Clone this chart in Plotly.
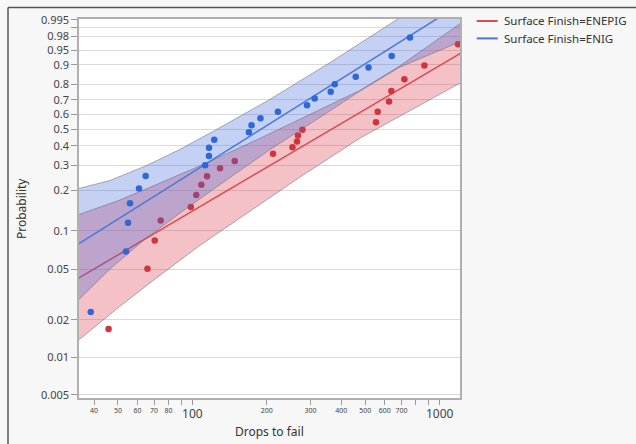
import numpy as np
import plotly.graph_objects as go

# ---------------- data ----------------
enepig_drops = [45.8, 65.8, 70.4, 74.4, 98.5, 103.6, 108.7, 114.6, 129.3, 148.3, 211.8,
                253.8, 264.8, 267.3, 278.5, 552.5, 561.4, 623.7, 637.6, 719.7, 867.3, 1185.7]
enepig_prob = [0.0169, 0.0507, 0.0841, 0.1198, 0.1511, 0.1849, 0.2191, 0.2521, 0.2859, 0.3198,
               0.3561, 0.3913, 0.4257, 0.4619, 0.4977, 0.5472, 0.6172, 0.6870, 0.7573, 0.8280,
               0.8965, 0.9658]
enig_drops = [38.8, 53.9, 54.9, 55.9, 60.8, 64.7, 112.6, 116.6, 116.7, 122.5, 169.2, 173.4,
              188.4, 221.7, 290.7, 312.2, 362.4, 376.2, 457.5, 515.4, 639.4, 758.5]
enig_prob = [0.0230, 0.0692, 0.1153, 0.1609, 0.2066, 0.2529, 0.2995, 0.3442, 0.3896, 0.4358,
             0.4818, 0.5268, 0.5733, 0.6179, 0.6620, 0.7071, 0.7528, 0.7980, 0.8418, 0.8880,
             0.9333, 0.9779]

# fitted Weibull lines
enepig_fit_drops = [34.5, 1215]
enepig_fit_prob = [0.0426, 0.9421]
enig_fit_drops = [34.5, 1215]
enig_fit_prob = [0.0789, 0.9992]

# confidence bands
enepig_band_drops = [34.4, 50.8, 71.1, 107.0, 187.2, 271.6, 474.9, 689.0, 1227]
enepig_upper_prob = [0.1320, 0.1701, 0.2191, 0.2963, 0.4430, 0.5652, 0.7598, 0.8943, 0.99358]
enepig_lower_prob = [0.0136, 0.0255, 0.0426, 0.0770, 0.1587, 0.2481, 0.4442, 0.5901, 0.8109]
enig_upper_drops = [34.4, 46.3, 64.7, 88.8, 123.1, 205.4, 359.1, 657.7, 1227]
enig_upper_prob = [0.2056, 0.2350, 0.2963, 0.3792, 0.4926, 0.7011, 0.9082, 0.99443, 0.999994]
enig_lower_drops = [34.4, 46.3, 64.7, 88.8, 123.1, 205.4, 359.1, 474.9, 689.0, 1227]
enig_lower_prob = [0.0284, 0.0504, 0.0871, 0.1359, 0.2072, 0.3781, 0.6227, 0.7553, 0.8893,
                   0.9718]

# axis ticks
y_tick_probs = [0.005, 0.01, 0.02, 0.05, 0.1, 0.2, 0.3, 0.4, 0.5, 0.6, 0.7, 0.8, 0.9,
                0.95, 0.98, 0.99, 0.995]
y_tick_labels = ["0.005", "0.01", "0.02", "0.05", "0.1", "0.2", "0.3", "0.4", "0.5", "0.6",
                 "0.7", "0.8", "0.9", "0.95", "0.98", "", "0.995"]
x_minor_ticks = [40, 50, 60, 70, 80, 90, 100, 200, 300, 400, 500, 600, 700, 800, 900, 1000]
x_minor_labels = ["40", "50", "60", "70", "80", "", "", "200", "300", "400", "500", "600",
                  "700", "", "", ""]
x_major_ticks = [100, 1000]
x_major_labels = ["100", "1000"]
series_names = ["Surface Finish=ENEPIG", "Surface Finish=ENIG"]


def weib(p):
    p = np.asarray(p, dtype=float)
    return np.log(-np.log(1.0 - p))


RED = "#d2343f"
RED_LINE = "#dc4b55"
RED_FILL = "rgba(220,50,65,0.30)"
BLUE = "#2f68d6"
BLUE_LINE = "#4a78d8"
BLUE_FILL = "rgba(60,100,220,0.30)"
EDGE = "rgba(110,110,110,0.55)"

fig = go.Figure()


def add_group(up_x, up_p, lo_x, lo_p, fit_x, fit_p, pts_x, pts_p, fill, lcol, mcol):
    bx = list(up_x) + list(lo_x)[::-1]
    by = list(weib(up_p)) + list(weib(lo_p))[::-1]
    fig.add_trace(go.Scatter(x=bx, y=by, mode="lines", fill="toself", fillcolor=fill,
                             line=dict(color=EDGE, width=1), hoverinfo="skip",
                             showlegend=False))
    fig.add_trace(go.Scatter(x=fit_x, y=weib(fit_p), mode="lines",
                             line=dict(color=lcol, width=1.5), showlegend=False))
    fig.add_trace(go.Scatter(x=pts_x, y=weib(pts_p), mode="markers",
                             marker=dict(color=mcol, size=6.5), showlegend=False))


add_group(enepig_band_drops, enepig_upper_prob, enepig_band_drops, enepig_lower_prob,
          enepig_fit_drops, enepig_fit_prob, enepig_drops, enepig_prob,
          RED_FILL, RED_LINE, RED)
add_group(enig_upper_drops, enig_upper_prob, enig_lower_drops, enig_lower_prob,
          enig_fit_drops, enig_fit_prob, enig_drops, enig_prob,
          BLUE_FILL, BLUE_LINE, BLUE)

# empty trace so the second (label) x axis exists
fig.add_trace(go.Scatter(x=[], y=[], xaxis="x2", yaxis="y", showlegend=False))

xr = [np.log10(34.78), np.log10(1208)]
yr = [float(weib(0.00471)), float(weib(0.99542))]

fig.update_layout(
    width=636, height=444,
    margin=dict(l=79, r=176, t=17, b=46),
    paper_bgcolor="#f7f7f7", plot_bgcolor="white",
    showlegend=False,
    font=dict(family="Noto Sans, Open Sans, sans-serif", color="#444"),
    xaxis=dict(type="log", range=xr, tickvals=x_minor_ticks, ticktext=x_minor_labels,
               tickfont=dict(size=7, color="#444"), ticks="outside", ticklen=5,
               tickcolor="#9a9a9a", showgrid=False, showline=True, linecolor="#b0b0b0",
               linewidth=1.5, mirror=True, zeroline=False),
    xaxis2=dict(type="log", range=xr, overlaying="x", anchor="y", side="bottom",
                tickvals=x_major_ticks, ticktext=x_major_labels,
                tickfont=dict(size=12, color="#444"), ticks="", showgrid=False,
                showline=False, zeroline=False, ticklabelstandoff=7),
    yaxis=dict(range=yr, tickvals=list(weib(y_tick_probs)), ticktext=y_tick_labels,
               tickfont=dict(size=11, color="#444"), ticks="outside", ticklen=6,
               tickcolor="#9a9a9a", showgrid=True, gridcolor="#dadada", gridwidth=1,
               showline=True, linecolor="#b0b0b0", linewidth=1.5, mirror=True,
               zeroline=False),
)

# axis titles
fig.add_annotation(text="Drops to fail", x=0.5, y=(398 - 432) / 381, xref="paper",
                   yref="paper", showarrow=False, font=dict(size=12, color="#333"),
                   xanchor="center", yanchor="middle")
fig.add_annotation(text="Probability", x=(21.5 - 79) / 381, y=0.5, xref="paper",
                   yref="paper", showarrow=False, textangle=-90,
                   font=dict(size=12, color="#333"), xanchor="center", yanchor="middle")

# legend (drawn manually)
for i, (name, col) in enumerate(zip(series_names, [RED_LINE, BLUE_LINE])):
    yy = (398 - (19 + 17.5 * i)) / 381
    fig.add_shape(type="line", xref="paper", yref="paper",
                  x0=(476.7 - 79) / 381, x1=(497.7 - 79) / 381, y0=yy, y1=yy,
                  line=dict(color=col, width=2))
    fig.add_annotation(text=name, x=(501.7 - 79) / 381, y=yy, xref="paper", yref="paper",
                       showarrow=False, xanchor="left", yanchor="middle",
                       font=dict(size=11.5, color="#333"))

# outer frame
fig.add_shape(type="line", xref="paper", yref="paper", x0=(8 - 79) / 381, x1=(640 - 79) / 381,
              y0=(398 - 5.5) / 381, y1=(398 - 5.5) / 381, line=dict(color="#555", width=1.5))
fig.add_shape(type="line", xref="paper", yref="paper", x0=(8 - 79) / 381, x1=(8 - 79) / 381,
              y0=(398 - 448) / 381, y1=(398 - 5.5) / 381, line=dict(color="#555", width=1.5))

fig.write_html("out.html")
